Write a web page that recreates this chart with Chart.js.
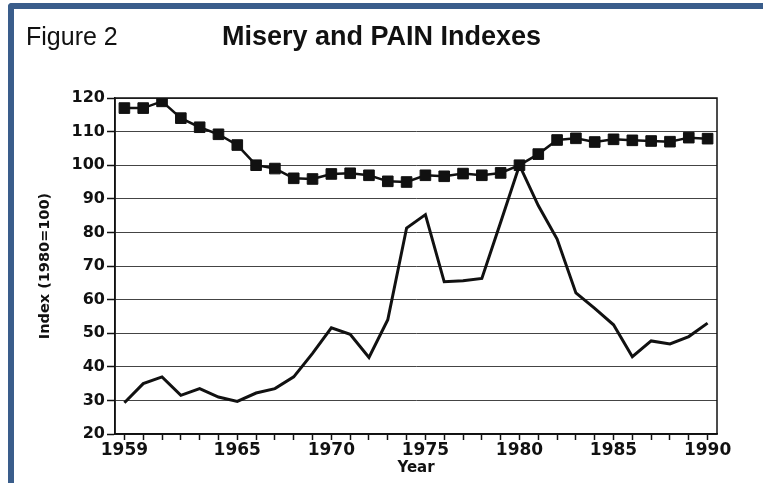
<!DOCTYPE html>
<html>
<head>
<meta charset="utf-8">
<script src="https://cdn.jsdelivr.net/npm/chart.js@4/dist/chart.umd.min.js"></script>
<style>
  html, body { margin: 0; padding: 0; background: #fff; overflow: hidden; }
  #wrap { position: relative; width: 763px; height: 483px; }
  #frame {
    position: absolute; left: 8px; top: 3px; width: 800px; height: 520px;
    border-top: 6px solid #3a5d8b; border-left: 6px solid #3a5d8b;
    border-top-left-radius: 4px; pointer-events: none;
  }
</style>
</head>
<body>
<div id="wrap">
  <canvas id="chart" width="763" height="483"></canvas>
  <div id="frame"></div>
</div>
<script>
const years = [
  1959, 1960, 1961, 1962, 1963, 1964, 1965, 1966, 1967, 1968, 1969,
  1970, 1971, 1972, 1973, 1974, 1975, 1976, 1977, 1978, 1979,
  1980, 1981, 1982, 1983, 1984, 1985, 1986, 1987, 1988, 1989, 1990
];
const labeledYears = [1959, 1965, 1970, 1975, 1980, 1985, 1990];

// square markers
const painIndex = [
  117, 117, 119, 114, 111.3, 109.2, 106, 100, 99, 96.1, 95.9,
  97.4, 97.6, 97, 95.2, 95, 97, 96.7, 97.5, 97, 97.7,
  100, 103.3, 107.5, 108, 106.9, 107.7, 107.4, 107.2, 107, 108.2, 107.9
];

// plain line
const miseryIndex = [
  29.3, 35, 37, 31.5, 33.5, 31, 29.7, 32.2, 33.5, 37, 44,
  51.6, 49.7, 42.8, 54, 81.3, 85.3, 65.3, 65.6, 66.3, 83,
  100, 88, 78, 62, 57.4, 52.5, 43, 47.7, 46.8, 49, 53
];

const yMin = 20, yMax = 120, yStep = 10;

const tickFont = { family: "DejaVu Sans", weight: "bold", size: 16 };

// box round the plot + the two headings
const extras = {
  id: "extras",
  afterDraw(chart) {
    const { ctx, chartArea: a } = chart;
    ctx.save();
    ctx.strokeStyle = "#111";
    ctx.lineWidth = 1.5;
    ctx.setLineDash([]);
    ctx.strokeRect(a.left, a.top, a.right - a.left, a.bottom - a.top);

    ctx.fillStyle = "#111";
    ctx.textBaseline = "alphabetic";
    ctx.font = "25px 'Liberation Sans', Arial, sans-serif";
    ctx.fillText("Figure 2", 26, 45);
    ctx.font = "bold 27px 'Liberation Sans', Arial, sans-serif";
    ctx.fillText("Misery and PAIN Indexes", 222, 45);
    ctx.restore();
  }
};

new Chart(document.getElementById("chart"), {
  type: "line",
  data: {
    labels: years.map(String),
    datasets: [
      {
        data: painIndex,
        borderColor: "#111",
        backgroundColor: "#111",
        borderWidth: 2.5,
        pointStyle: "rect",
        pointRadius: 7.5,
        pointBorderWidth: 1,
        tension: 0
      },
      {
        data: miseryIndex,
        borderColor: "#111",
        borderWidth: 3,
        pointRadius: 0,
        tension: 0
      }
    ]
  },
  options: {
    responsive: false,
    animation: false,
    layout: { padding: { left: 37, right: 46, top: 98, bottom: 0 } },
    plugins: { legend: { display: false }, tooltip: { enabled: false } },
    scales: {
      x: {
        type: "category",
        offset: true,
        afterFit: (s) => { s.height = 49; },
        grid: {
          display: true,
          drawOnChartArea: false,
          tickLength: 6,
          tickColor: "#111",
          tickWidth: 1.5
        },
        border: { display: true, color: "#111", width: 1.5 },
        ticks: {
          autoSkip: false,
          maxRotation: 0,
          padding: 0,
          color: "#111",
          font: { family: "DejaVu Sans", weight: "bold", size: 17 },
          callback: function (v, i) {
            return labeledYears.includes(years[i]) ? String(years[i]) : "";
          }
        },
        title: {
          display: true,
          text: "Year",
          color: "#111",
          font: { family: "DejaVu Sans", weight: "bold", size: 15 },
          padding: { top: 0, bottom: 6 }
        }
      },
      y: {
        min: yMin,
        max: yMax,
        afterFit: (s) => { s.width = 78; },
        grid: {
          color: "#444",
          lineWidth: 1,
          borderDash: [2, 1],
          tickLength: 8,
          tickColor: "#111",
          tickBorderDash: [],
          tickWidth: 1.5
        },
        border: { display: true, color: "#111", width: 1.5 },
        ticks: {
          stepSize: yStep,
          padding: 2,
          color: "#111",
          font: tickFont
        },
        title: {
          display: true,
          text: "Index (1980=100)",
          color: "#111",
          font: { family: "DejaVu Sans", weight: "bold", size: 14.5 },
          padding: { top: 0, bottom: 0 }
        }
      }
    }
  },
  plugins: [extras]
});
</script>
</body>
</html>
